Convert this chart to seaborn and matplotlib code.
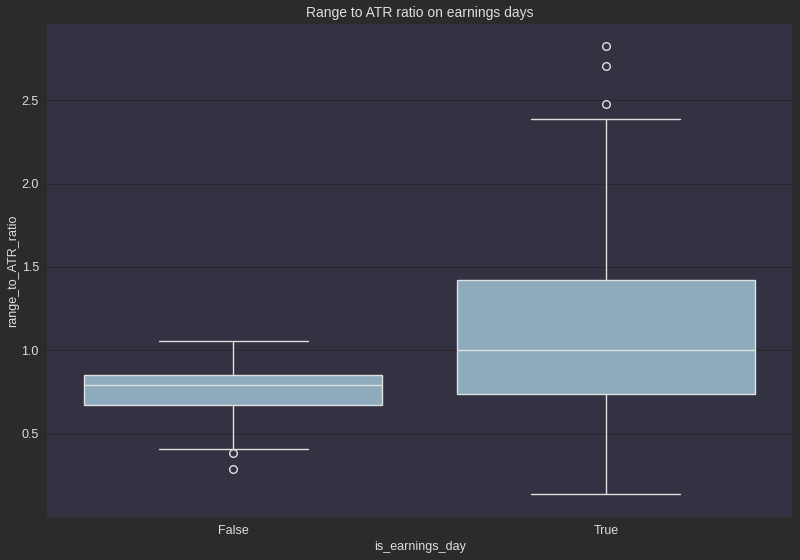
import pandas as pd
import matplotlib
matplotlib.use('Agg')
import seaborn as sns
import matplotlib.pyplot as plt

false_vals = [0.286, 0.386, 0.405, 0.670, 0.70, 0.74, 0.791, 0.80, 0.83,
              0.850, 0.93, 1.00, 1.055]
true_vals = [0.135, 0.40, 0.55, 0.65, 0.740, 0.80, 0.88, 0.95, 0.999,
             1.10, 1.20, 1.32, 1.420, 2.387, 2.477, 2.703, 2.823]
groups = ['False', 'True']

df = pd.DataFrame({
    'is_earnings_day': [groups[0]] * len(false_vals) + [groups[1]] * len(true_vals),
    'range_to_ATR_ratio': false_vals + true_vals,
})

sns.set_theme(style='darkgrid')
plt.rcParams['font.family'] = ['Liberation Sans', 'DejaVu Sans']

fig_bg = '#2b2b2b'
ax_bg = '#333242'
text_col = '#dedede'
line_col = '#e0e0e0'

fig = plt.figure(figsize=(8, 5.6), dpi=100)
fig.patch.set_facecolor(fig_bg)
ax = fig.add_axes([0.059, 0.077, 0.931, 0.880])
ax.set_facecolor(ax_bg)

sns.boxplot(data=df, x='is_earnings_day', y='range_to_ATR_ratio', order=groups,
            color='#8eabbe', saturation=1, width=0.8, ax=ax,
            linecolor=line_col, linewidth=1.0,
            flierprops=dict(marker='o', markersize=5.5, markerfacecolor='none',
                            markeredgecolor=line_col, markeredgewidth=1.0))

ax.grid(axis='y', color='#27272d', linewidth=0.8)
ax.grid(axis='x', visible=False)
for s in ax.spines.values():
    s.set_visible(False)

ax.set_title('Range to ATR ratio on earnings days', color=text_col, fontsize=10, pad=5)
ax.set_xlabel('is_earnings_day', color=text_col, fontsize=9, labelpad=3)
ax.set_ylabel('range_to_ATR_ratio', color=text_col, fontsize=9, labelpad=1.5)
ax.tick_params(colors=text_col, labelsize=9, length=0, pad=6)

plt.savefig('out.png', dpi=100, facecolor=fig_bg)
